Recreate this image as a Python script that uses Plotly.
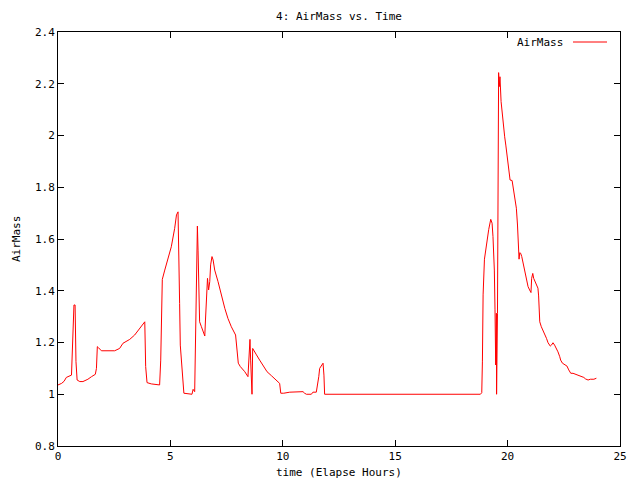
import plotly.graph_objects as go

time_hours = [
    0.00, 0.16, 0.27, 0.37, 0.60, 0.62, 0.67, 0.71, 0.76, 0.77, 0.80, 0.85, 0.97, 1.11, 1.33, 1.49,
    1.66, 1.71, 1.75, 1.80, 1.93, 2.52, 2.74, 2.89, 3.04, 3.19, 3.41, 3.63, 3.78, 3.86, 3.90, 3.96,
    4.15, 4.52, 4.57, 4.60, 4.64, 4.75, 4.89, 5.04, 5.19, 5.27, 5.34, 5.37, 5.41, 5.44, 5.50, 5.56,
    5.60, 5.96, 6.01, 6.08, 6.11, 6.16, 6.20, 6.23, 6.27, 6.30, 6.38, 6.53, 6.56, 6.60, 6.65, 6.70,
    6.75, 6.79, 6.85, 6.90, 6.97, 7.12, 7.27, 7.42, 7.56, 7.71, 7.90, 7.96, 8.02, 8.11, 8.31, 8.45,
    8.50, 8.54, 8.57, 8.60, 8.63, 8.66, 8.71, 8.83, 8.97, 9.12, 9.30, 9.49, 9.72, 9.86, 9.91, 10.04,
    10.31, 10.78, 10.90, 10.97, 11.05, 11.27, 11.34, 11.49, 11.54, 11.60, 11.64, 11.72, 11.79, 11.83,
    11.86, 18.79, 18.85, 18.88, 18.91, 18.97, 19.03, 19.08, 19.16, 19.25, 19.31, 19.35, 19.41, 19.44,
    19.47, 19.50, 19.51, 19.55, 19.57, 19.60, 19.63, 19.66, 19.71, 19.77, 19.83, 19.87, 19.92, 19.96,
    20.02, 20.06, 20.11, 20.20, 20.24, 20.28, 20.35, 20.39, 20.44, 20.48, 20.51, 20.54, 20.58, 20.63,
    20.69, 20.76, 20.84, 20.91, 20.98, 21.04, 21.07, 21.12, 21.16, 21.22, 21.28, 21.35, 21.38, 21.43,
    21.50, 21.57, 21.65, 21.73, 21.80, 21.90, 21.95, 22.02, 22.09, 22.17, 22.24, 22.32, 22.36, 22.44,
    22.54, 22.64, 22.72, 22.81, 22.91, 23.03, 23.13, 23.24, 23.39, 23.47, 23.58, 23.68, 23.84, 23.95,
]

airmass = [
    1.036, 1.042, 1.050, 1.065, 1.074, 1.139, 1.274, 1.345, 1.345, 1.270, 1.126, 1.055, 1.049, 1.049, 1.058, 1.068,
    1.077, 1.100, 1.184, 1.180, 1.168, 1.168, 1.177, 1.197, 1.206, 1.212, 1.229, 1.255, 1.271, 1.280, 1.107, 1.045,
    1.040, 1.036, 1.132, 1.332, 1.444, 1.480, 1.519, 1.570, 1.641, 1.693, 1.705, 1.590, 1.351, 1.190, 1.107, 1.049,
    1.004, 1.000, 1.019, 1.010, 1.164, 1.487, 1.650, 1.557, 1.377, 1.280, 1.261, 1.225, 1.287, 1.397, 1.448, 1.403,
    1.435, 1.500, 1.532, 1.519, 1.480, 1.435, 1.377, 1.332, 1.293, 1.261, 1.229, 1.184, 1.120, 1.107, 1.087, 1.068,
    1.171, 1.212, 1.132, 1.087, 1.000, 1.177, 1.171, 1.152, 1.132, 1.110, 1.087, 1.072, 1.055, 1.042, 1.004, 1.004,
    1.008, 1.010, 1.010, 1.004, 1.000, 1.000, 1.008, 1.008, 1.029, 1.068, 1.100, 1.109, 1.120, 1.074,
    1.000, 1.000, 1.006, 1.128, 1.384, 1.522, 1.560, 1.586, 1.637, 1.676, 1.661, 1.609, 1.480, 1.326,
    1.113, 1.313, 1.000, 1.313, 1.931, 2.243, 2.189, 2.227, 2.131, 2.073, 2.034, 1.995, 1.963, 1.931,
    1.905, 1.867, 1.828, 1.826, 1.802, 1.770, 1.744, 1.719, 1.654, 1.564, 1.522, 1.547, 1.545, 1.532,
    1.506, 1.474, 1.442, 1.416, 1.403, 1.393, 1.448, 1.467, 1.448, 1.435, 1.422, 1.410, 1.380, 1.280,
    1.261, 1.248, 1.235, 1.216, 1.199, 1.186, 1.190, 1.199, 1.190, 1.177, 1.164, 1.145, 1.132, 1.120,
    1.113, 1.109, 1.094, 1.081, 1.081, 1.077, 1.072, 1.068, 1.065, 1.059, 1.055, 1.058, 1.058, 1.062,
]

x_ticks = [0, 5, 10, 15, 20, 25]
y_ticks = [0.8, 1.0, 1.2, 1.4, 1.6, 1.8, 2.0, 2.2, 2.4]
y_tick_labels = ["0.8", "1", "1.2", "1.4", "1.6", "1.8", "2", "2.2", "2.4"]

FONT = "DejaVu Sans Mono"
fs = 11

# page body has an 8px margin, so the figure is 632x472 and offset by 8px
W, H = 632, 472
L, R, T, B = 50, 20, 24, 34
PW, PH = W - L - R, H - T - B

fig = go.Figure()
fig.add_trace(go.Scatter(
    x=time_hours, y=airmass, mode="lines", name="AirMass",
    line=dict(color="#ff0000", width=1), showlegend=False,
))

axis_common = dict(
    showgrid=False, zeroline=False, showline=True, linecolor="black", linewidth=1,
    mirror="ticks", ticks="inside", ticklen=6, tickcolor="black", tickwidth=1,
    tickfont=dict(family=FONT, size=fs, color="black"),
)

fig.update_layout(
    width=W, height=H,
    margin=dict(l=L, r=R, t=T, b=B, autoexpand=False),
    paper_bgcolor="white", plot_bgcolor="white",
    font=dict(family=FONT, size=fs, color="black"),
    title=dict(text="4: AirMass vs. Time", x=(L + PW / 2) / W, xanchor="center",
               y=1 - 8 / H, yanchor="middle", font=dict(family=FONT, size=fs)),
    xaxis=dict(range=[0, 25], tickvals=x_ticks, ticktext=[str(v) for v in x_ticks], **axis_common),
    yaxis=dict(range=[0.8, 2.4], tickvals=y_ticks, ticktext=y_tick_labels, **axis_common),
)

# axis titles
fig.add_annotation(text="time (Elapse Hours)", xref="paper", yref="paper", x=0.5, y=0,
                   yshift=-26, showarrow=False, yanchor="middle", font=dict(family=FONT, size=fs))
fig.add_annotation(text="AirMass", xref="paper", yref="paper", x=0, y=0.5, textangle=-90,
                   xshift=-42, showarrow=False, xanchor="center", font=dict(family=FONT, size=fs))

# legend (gnuplot style: text then line sample)
leg_y = 1 - 10 / PH
fig.add_annotation(text="AirMass", xref="paper", yref="paper", x=(507) / PW, y=leg_y,
                   xanchor="right", yanchor="middle", showarrow=False, font=dict(family=FONT, size=fs))
fig.add_shape(type="line", xref="paper", yref="paper", x0=515 / PW, x1=549 / PW,
              y0=leg_y, y1=leg_y, line=dict(color="#ff0000", width=1))

fig.write_html("out.html")
